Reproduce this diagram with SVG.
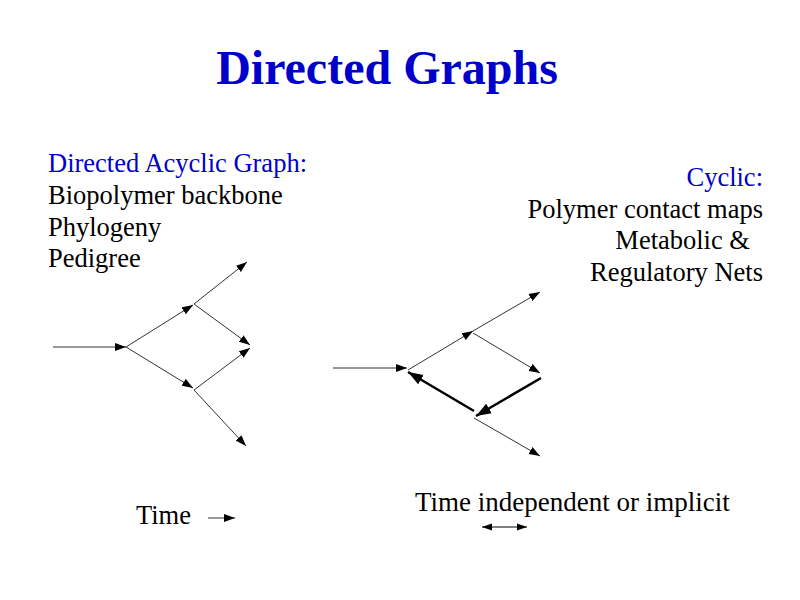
<svg xmlns="http://www.w3.org/2000/svg" width="800" height="600" viewBox="0 0 800 600">
<defs>
<style>
.t{font-family:"Liberation Serif","Times New Roman",serif;font-size:26.5px;fill:#000}
.b{fill:#0000cc}
.title{font-family:"Liberation Serif","Times New Roman",serif;font-size:48px;font-weight:bold;fill:#0000cc}
.e{stroke:#333;stroke-width:1;fill:none;marker-end:url(#ah)}
.k{stroke:#000;stroke-width:2.5;fill:none;marker-end:url(#ahk)}
</style>
<marker id="ah" markerUnits="userSpaceOnUse" markerWidth="12" markerHeight="9" refX="11" refY="4.5" orient="auto"><path d="M0,0.5 L11,4.5 L0,8.5 z" fill="#000"/></marker>
<marker id="ahk" markerUnits="userSpaceOnUse" markerWidth="16" markerHeight="12" refX="15" refY="6" orient="auto"><path d="M0,0.5 L15,6 L0,11.5 z" fill="#000"/></marker>
<marker id="ahs" markerUnits="userSpaceOnUse" markerWidth="11" markerHeight="8" refX="10" refY="4" orient="auto-start-reverse"><path d="M0,0.5 L10,4 L0,7.5 z" fill="#000"/></marker>
</defs>
<rect width="800" height="600" fill="#fff"/>
<g id="title"><text class="title" x="387" y="84" text-anchor="middle">Directed Graphs</text></g>
<g id="left-text">
<text class="t b" x="48" y="172">Directed Acyclic Graph:</text>
<text class="t" x="48" y="204">Biopolymer backbone</text>
<text class="t" x="48" y="236">Phylogeny</text>
<text class="t" x="48" y="267">Pedigree</text>
</g>
<g id="right-text" text-anchor="end">
<text class="t b" x="763" y="186">Cyclic:</text>
<text class="t" x="763" y="218">Polymer contact maps</text>
<text class="t" x="750" y="249">Metabolic &amp;</text>
<text class="t" x="763" y="281">Regulatory Nets</text>
</g>
<g id="bottom-text">
<text class="t" x="136" y="524">Time</text>
<text class="t" x="415" y="511" style="font-size:27px">Time independent or implicit</text>
</g>
<g id="connectors">
<path class="e" stroke="#000" d="M53,347 L126,347"/>
<path class="e" d="M126,347 L193,305"/>
<path class="e" d="M126,347 L193,388"/>
<path class="e" d="M194,304 L247,262"/>
<path class="e" d="M194,304 L250,345"/>
<path class="e" d="M194,390 L250,348"/>
<path class="e" d="M194,390 L246,446"/>
<path class="e" stroke="#000" d="M333,368 L407,368"/>
<path class="e" d="M408,370 L473,331"/>
<path class="e" d="M473,331 L540,292"/>
<path class="e" d="M473,333 L540,373"/>
<path class="k" d="M541,378 L476,416"/>
<path class="k" d="M474,411 L408,372"/>
<path class="e" d="M474,418 L540,456"/>
<path class="e" stroke="#000" d="M208,518 L235,518"/>
<path stroke="#000" stroke-width="1" fill="none" marker-start="url(#ahs)" marker-end="url(#ahs)" d="M482,527 L527,527"/>
</g>
</svg>
